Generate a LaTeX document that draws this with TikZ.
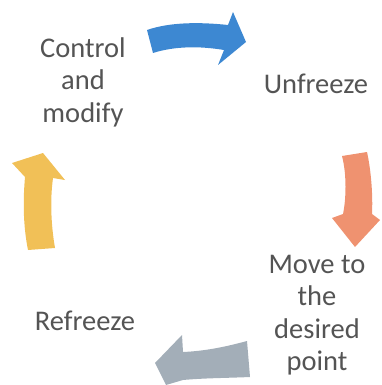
\documentclass[tikz,border=0pt]{standalone}
\usepackage{fontspec}
\setmainfont{Carlito}
\definecolor{txtgray}{HTML}{545454}
\definecolor{cblue}{HTML}{3D88D2}
\definecolor{corange}{HTML}{EF9270}
\definecolor{cgray}{HTML}{A3AEB8}
\definecolor{cyellow}{HTML}{F1C057}
\begin{document}
\begin{tikzpicture}[x=1pt,y=-1pt,
  lbl/.style={text=txtgray,font=\fontsize{28.5}{32.5}\selectfont,align=center,inner sep=0pt},
  blockarrow/.style={draw=none}]
\useasboundingbox (0,0) rectangle (382,385);
\node[lbl] (unfreeze) at (316,84) {Unfreeze};
\node[lbl] (move) at (317,315) {Move to\\the\\desired\\point};
\node[lbl] (refreeze) at (85,321) {Refreeze};
\node[lbl] (control) at (83,82) {Control\\and\\modify};
% blue arrow
\fill[cblue,blockarrow] (147,30) .. controls (170,22) and (200,22) .. (228,25) -- (233,12) -- (246,42) -- (218,65) -- (224,50) .. controls (200,46) and (175,46) .. (153,53) -- cycle;
% orange arrow
\fill[corange,blockarrow] (342,156) .. controls (347,175) and (346,200) .. (343,214) -- (332,218) -- (355,247) -- (380,220) -- (372,214) .. controls (373,195) and (371,170) .. (367,152) -- cycle;
% gray arrow
\fill[cgray,blockarrow] (247,341) .. controls (225,347) and (205,351) .. (183,352) -- (182,335) -- (155,363) -- (166,385) -- (183,380) .. controls (205,378) and (228,378) .. (250,377) -- cycle;
% yellow arrow
\fill[cyellow,blockarrow] (28,250) .. controls (23,225) and (23,200) .. (25,177) -- (12,163) -- (43,153) -- (65,180) -- (53,178) .. controls (50,200) and (51,225) .. (55,248) -- cycle;
\end{tikzpicture}
\end{document}
